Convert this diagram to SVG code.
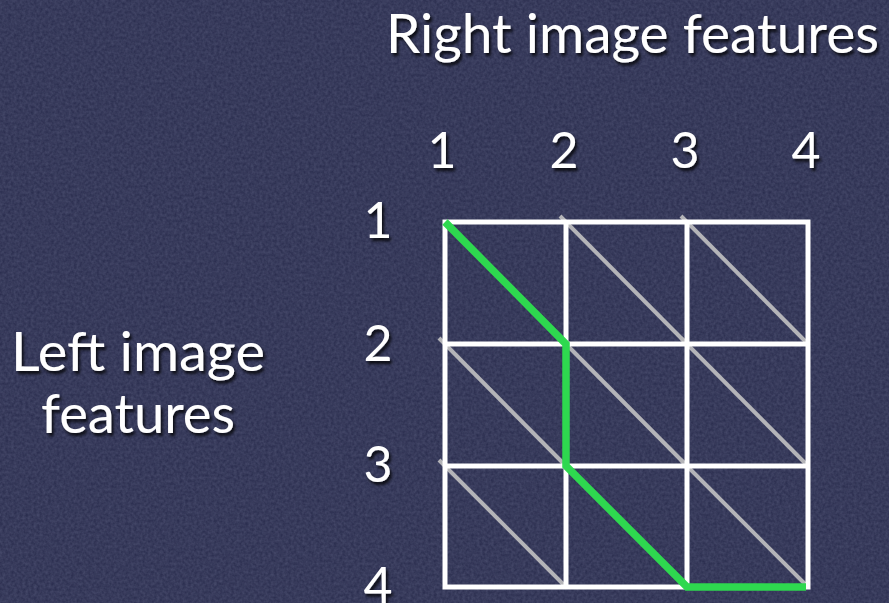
<svg xmlns="http://www.w3.org/2000/svg" width="889" height="603" viewBox="0 0 889 603">
  <defs>
    <filter id="tex" x="0" y="0" width="100%" height="100%">
      <feTurbulence type="fractalNoise" baseFrequency="0.35" numOctaves="2" seed="3" result="n"/>
      <feColorMatrix in="n" type="matrix" values="0 0 0 0 0.25  0 0 0 0 0.27  0 0 0 0 0.42  0 0 0 0.35 -0.05" result="c"/>
      <feComposite in="c" in2="SourceGraphic" operator="in"/>
    </filter>
    <filter id="sh" x="-10%" y="-10%" width="130%" height="140%">
      <feDropShadow dx="2" dy="3" stdDeviation="1.5" flood-color="#000" flood-opacity="0.8"/>
    </filter>
  </defs>
  <style>
    text { font-family: "Lato", "Open Sans", sans-serif; fill: #ffffff; filter: url(#sh); }
    .lbl { font-size: 54px; }
    .num { font-size: 50px; text-anchor: middle; }
    .grid { stroke: #ffffff; stroke-width: 5; fill: none; }
    .diag { stroke: #b4b4b8; stroke-width: 4; }
    .path { stroke: #2ed84f; stroke-width: 7.5; fill: none; stroke-linejoin: miter; }
  </style>
  <rect width="889" height="603" fill="#2c2f50"/>
  <rect width="889" height="603" fill="#2c2f50" filter="url(#tex)"/>

  <g id="title-right"><text class="lbl" x="386" y="53" textLength="493" lengthAdjust="spacingAndGlyphs">Right image features</text></g>
  <g id="title-left">
    <text class="lbl" x="11" y="371" textLength="254" lengthAdjust="spacingAndGlyphs">Left image</text>
    <text class="lbl" x="41" y="433" textLength="194" lengthAdjust="spacingAndGlyphs">features</text>
  </g>
  <g id="col-labels">
    <text class="num" x="442" y="168">1</text>
    <text class="num" x="564" y="168">2</text>
    <text class="num" x="685" y="168">3</text>
    <text class="num" x="806" y="168">4</text>
  </g>
  <g id="row-labels">
    <text class="num" x="378" y="238">1</text>
    <text class="num" x="378" y="361">2</text>
    <text class="num" x="378" y="482">3</text>
    <text class="num" x="378" y="603">4</text>
  </g>

  <g id="connectors">
    <g id="diagonals">
      <line class="diag" x1="560" y1="216" x2="687" y2="344"/>
      <line class="diag" x1="681" y1="216" x2="808" y2="344"/>
      <line class="diag" x1="439" y1="338" x2="566" y2="466"/>
      <line class="diag" x1="560" y1="338" x2="687" y2="466"/>
      <line class="diag" x1="681" y1="338" x2="808" y2="466"/>
      <line class="diag" x1="439" y1="460" x2="566" y2="587"/>
      <line class="diag" x1="681" y1="460" x2="808" y2="587"/>
    </g>
    <g id="grid">
      <rect class="grid" x="445" y="222" width="363" height="365"/>
      <line class="grid" x1="566" y1="222" x2="566" y2="587"/>
      <line class="grid" x1="687" y1="222" x2="687" y2="587"/>
      <line class="grid" x1="445" y1="344" x2="808" y2="344"/>
      <line class="grid" x1="445" y1="466" x2="808" y2="466"/>
    </g>
    <polyline id="match-path" class="path" points="445,222 566,344 566,466 687,587 806,587"/>
  </g>
</svg>
